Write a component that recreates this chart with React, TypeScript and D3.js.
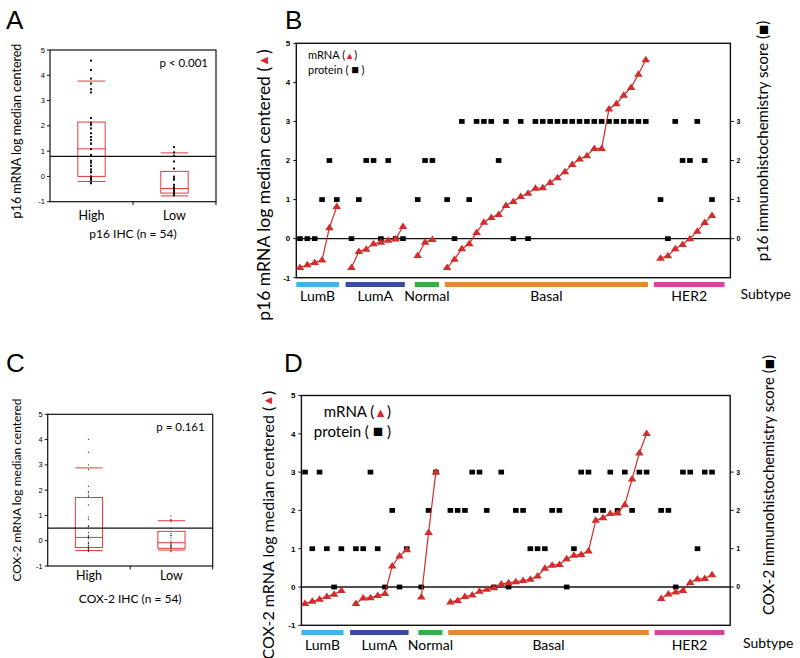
import React from "react";
import * as d3 from "d3";

// ---------- shared categories ----------
const subtypes = ["LumB", "LumA", "Normal", "Basal", "HER2"];
const subtypeColors = ["#41b6e6", "#3b4ba1", "#3aad4b", "#e38a36", "#d6449b"];
// subtype bar extents in sample-slot units
const subtypeBarStart = [-0.5, 6.2, 15.6, 19.7, 48.1];
const subtypeBarEnd = [5.3, 14.25, 18.9, 47.3, 57.7];
const yTicks = [-1, 0, 1, 2, 3, 4, 5];
const ihcTicks = [0, 1, 2, 3];
const ihcGroups = ["High", "Low"];

// ---------- p16 (panel B; panel A derived) ----------
const p16MrnaLumB = [-0.74, -0.67, -0.61, -0.55, 0.28, 0.82];
const p16ProteinLumB = [0, 0, 0, 1, 2, 1];
const p16MrnaLumA = [-0.74, -0.33, -0.27, -0.13, -0.09, -0.04, -0.01, 0.31];
const p16ProteinLumA = [0, 1, 2, 2, 0, 2, 0, 0];
const p16MrnaNormal = [-0.43, -0.09, -0.02];
const p16ProteinNormal = [1, 2, 2];
const p16MrnaBasal = [-0.74, -0.53, -0.26, -0.13, 0.16, 0.42, 0.54, 0.62, 0.85, 0.95, 1.08, 1.16, 1.29, 1.3, 1.44, 1.56, 1.71, 1.9, 2.04, 2.12, 2.31, 2.31, 3.32, 3.45, 3.67, 3.87, 4.21, 4.58];
const p16ProteinBasal = [1, 0, 3, 1, 3, 3, 3, 2, 3, 0, 3, 0, 3, 3, 3, 3, 3, 3, 3, 3, 3, 3, 3, 3, 3, 3, 3, 3];
const p16MrnaHER2 = [-0.5, -0.44, -0.26, -0.15, 0.0, 0.19, 0.41, 0.59];
const p16ProteinHER2 = [1, 0, 3, 2, 2, 3, 2, 1];

// panel A box summary: [lowCap, q1, median, q3, highCap] for High, Low
const p16BoxHigh = [-0.2, 0.0, 1.09, 2.15, 3.77];
const p16BoxLow = [-0.77, -0.66, -0.48, 0.2, 0.93];
const p16Threshold = 0.79;

// ---------- COX-2 (panel D; panel C derived) ----------
const coxMrnaLumB = [-0.43, -0.37, -0.32, -0.25, -0.19, -0.09];
const coxProteinLumB = [3, 1, 3, 1, 0, 1];
const coxMrnaLumA = [-0.43, -0.29, -0.28, -0.22, -0.17, 0.55, 0.81, 0.97];
const coxProteinLumA = [1, 1, 3, 1, 0, 2, 0, 1];
const coxMrnaNormal = [-0.26, 1.42, 3.0];
const coxProteinNormal = [0, 2, 3];
const coxMrnaBasal = [-0.39, -0.35, -0.25, -0.21, -0.11, -0.06, -0.02, 0.08, 0.11, 0.14, 0.17, 0.2, 0.29, 0.49, 0.57, 0.59, 0.74, 0.83, 0.85, 0.94, 1.74, 1.81, 1.92, 1.93, 2.15, 2.82, 3.5, 4.01];
const coxProteinBasal = [2, 2, 2, 3, 3, 2, 0, 3, 0, 2, 2, 1, 1, 1, 2, 2, 0, 1, 3, 3, 2, 2, 3, 2, 3, 2, 3, 3];
const coxMrnaHER2 = [-0.3, -0.18, -0.13, -0.09, 0.12, 0.21, 0.22, 0.32];
const coxProteinHER2 = [2, 2, 0, 3, 3, 1, 3, 3];

const coxBoxHigh = [-0.39, -0.27, 0.13, 1.71, 2.88];
const coxBoxLow = [-0.37, -0.3, -0.08, 0.37, 0.79];
const coxThreshold = 0.5;

const FONT = "Lato, 'Open Sans', sans-serif";
const NUMFONT = "'Liberation Sans', Arial, sans-serif";
const RED = "#d42b2b";
const BOXRED = "#e5383b";

type Sample = { group: number; slot: number; mrna: number; protein: number };

function buildSamples(mrna: number[][], protein: number[][]): Sample[] {
  const out: Sample[] = [];
  let slot = 0;
  mrna.forEach((g, gi) => {
    g.forEach((v, i) => out.push({ group: gi, slot: slot + i, mrna: v, protein: protein[gi][i] }));
    slot += g.length + 1;
  });
  return out;
}

const p16Samples = buildSamples(
  [p16MrnaLumB, p16MrnaLumA, p16MrnaNormal, p16MrnaBasal, p16MrnaHER2],
  [p16ProteinLumB, p16ProteinLumA, p16ProteinNormal, p16ProteinBasal, p16ProteinHER2]
);
const coxSamples = buildSamples(
  [coxMrnaLumB, coxMrnaLumA, coxMrnaNormal, coxMrnaBasal, coxMrnaHER2],
  [coxProteinLumB, coxProteinLumA, coxProteinNormal, coxProteinBasal, coxProteinHER2]
);

function BoxPanel(props: {
  x0: number; x1: number; y0: number; y1: number;
  samples: Sample[]; boxHigh: number[]; boxLow: number[]; threshold: number;
  pText: string; xTitle: string; yTitle: string; yTitleX: number; yTitleY: number;
  xTitleY: number; catY: number; dotR: number; dotColor: string; titleSize: number;
}) {
  const { x0, x1, y0, y1, samples } = props;
  const x = d3.scaleBand().domain(ihcGroups).range([x0, x1]);
  const y = d3.scaleLinear().domain([-1, 5]).range([y1, y0]);
  const bw = x.bandwidth() * 0.33;
  const boxes = [props.boxHigh, props.boxLow];
  return (
    <g>
      <rect x={x0} y={y0} width={x1 - x0} height={y1 - y0} fill="none" stroke="#111" strokeWidth={1.2} />
      {yTicks.map((t) => (
        <g key={t}>
          <line x1={x0 - 3} x2={x0} y1={y(t)} y2={y(t)} stroke="#111" strokeWidth={1} />
          <text x={x0 - 5} y={y(t)} dy="0.35em" textAnchor="end" fontSize={7.5} fontFamily={NUMFONT}>{t}</text>
        </g>
      ))}
      {ihcGroups.map((g) => (
        <line key={g} x1={(x(g) as number) + x.bandwidth()} x2={(x(g) as number) + x.bandwidth()} y1={y1} y2={y1 + 3.5} stroke="#111" strokeWidth={1} />
      ))}
      {ihcGroups.map((g, gi) => {
        const cx = (x(g) as number) + x.bandwidth() / 2;
        const b = boxes[gi];
        const dots = samples.filter((s) => (gi === 0 ? s.protein >= 2 : s.protein < 2));
        return (
          <g key={g}>
            <rect x={cx - bw / 2} y={y(b[3])} width={bw} height={y(b[1]) - y(b[3])} fill="none" stroke={BOXRED} strokeWidth={1} />
            {[b[0], b[2], b[4]].map((v, k) => (
              <line key={k} x1={cx - bw / 2} x2={cx + bw / 2} y1={y(v)} y2={y(v)} stroke={BOXRED} strokeWidth={1} />
            ))}
            {dots.map((s, k) => (
              <rect key={k} x={cx - 0.5 - props.dotR} y={y(s.mrna) - props.dotR} width={props.dotR * 2} height={props.dotR * 2} fill={props.dotColor} />
            ))}
            <text x={cx} y={props.catY} textAnchor="middle" fontSize={12.5} fontFamily={FONT}>{g}</text>
          </g>
        );
      })}
      <line x1={x0} x2={x1} y1={y(props.threshold)} y2={y(props.threshold)} stroke="#111" strokeWidth={1.2} />
      <text x={x1 - 8} y={y0 + 17} textAnchor="end" fontSize={11.5} fontFamily={FONT}>{props.pText}</text>
      <text x={(x0 + x1) / 2} y={props.xTitleY} textAnchor="middle" fontSize={12} fontFamily={FONT}>{props.xTitle}</text>
      <text transform={`translate(${props.yTitleX},${props.yTitleY}) rotate(-90)`} textAnchor="middle" dominantBaseline="central" fontSize={props.titleSize} fontFamily={FONT}>{props.yTitle}</text>
    </g>
  );
}

function ScatterPanel(props: {
  x0: number; x1: number; y0: number; y1: number; samples: Sample[];
  gene: string; leftTitleX: number; leftTitleY: number; leftTitleSize: number; rightTitleX: number; rightTitleY: number;
  legendX: number; legendY: number; legendSize: number; legendAnchor: "start" | "end";
  barY: number; labelY: number; subtypeTextX: number; subtypeTextY: number;
}) {
  const { x0, x1, y0, y1, samples } = props;
  const x = d3.scaleLinear().domain([-0.5, 58.5]).range([x0, x1]);
  const y = d3.scaleLinear().domain([-1, 5]).range([y1, y0]);
  const yr = d3.scaleLinear().domain([-1, 5]).range([y1, y0]);
  const line = d3.line<Sample>().x((d) => x(d.slot)).y((d) => y(d.mrna));
  const tri = "M0,-4L4.3,2.5L-4.3,2.5Z";
  return (
    <g>
      <rect x={x0} y={y0} width={x1 - x0} height={y1 - y0} fill="none" stroke="#111" strokeWidth={1.4} />
      {yTicks.map((t) => (
        <g key={t}>
          <line x1={x0 - 3} x2={x0} y1={y(t)} y2={y(t)} stroke="#111" strokeWidth={1} />
          <text x={x0 - 6} y={y(t)} dy="0.35em" textAnchor="end" fontSize={8} fontWeight="bold" fontFamily={NUMFONT}>{t}</text>
        </g>
      ))}
      {ihcTicks.map((t) => (
        <g key={t}>
          <line x1={x1} x2={x1 + 3.5} y1={yr(t)} y2={yr(t)} stroke="#111" strokeWidth={1} />
          <text x={x1 + 6} y={yr(t)} dy="0.35em" textAnchor="start" fontSize={7} fontWeight="bold" fontFamily={NUMFONT}>{t}</text>
        </g>
      ))}
      <line x1={x0} x2={x1} y1={y(0)} y2={y(0)} stroke="#111" strokeWidth={1.4} />
      {samples.map((s, i) => (
        <rect key={"p" + i} x={x(s.slot) - 2.8} y={yr(s.protein) - 2.4} width={5.6} height={4.8} fill="#000" />
      ))}
      {subtypes.map((st, gi) => {
        const g = samples.filter((s) => s.group === gi);
        return <path key={st} d={line(g) || ""} fill="none" stroke={RED} strokeWidth={1.2} />;
      })}
      {samples.map((s, i) => (
        <path key={"t" + i} d={tri} transform={`translate(${x(s.slot)},${y(s.mrna)})`} fill={RED} />
      ))}
      {subtypes.map((st, gi) => {
        const a = x(subtypeBarStart[gi]);
        const b = x(subtypeBarEnd[gi]);
        return (
          <g key={st}>
            <rect x={a} y={props.barY} width={b - a} height={5} fill={subtypeColors[gi]} />
            <text x={(a + b) / 2} y={props.labelY} textAnchor="middle" fontSize={14} fontFamily={FONT}>{st}</text>
          </g>
        );
      })}
      <text x={props.subtypeTextX} y={props.subtypeTextY} fontSize={14} fontFamily={FONT}>Subtype</text>
      <g fontFamily={FONT} fontSize={props.legendSize} textAnchor={props.legendAnchor}>
        <text x={props.legendX} y={props.legendY}>mRNA (<tspan fill={RED} fontSize={props.legendSize * 0.85}>▲</tspan>)</text>
        <text x={props.legendX} y={props.legendY + props.legendSize * 1.35}>protein ( <tspan fontSize={props.legendSize * 1.15}>■</tspan> )</text>
      </g>
      <text transform={`translate(${props.leftTitleX},${props.leftTitleY}) rotate(-90)`} textAnchor="middle" dominantBaseline="central" fontSize={props.leftTitleSize} fontFamily={FONT}>
        {props.gene} mRNA log median centered (<tspan fill={RED} fontSize={props.leftTitleSize * 0.75}>▲</tspan>)
      </text>
      <text transform={`translate(${props.rightTitleX},${props.rightTitleY}) rotate(-90)`} textAnchor="middle" dominantBaseline="central" fontSize={15} fontFamily={FONT}>
        {props.gene} immunohistochemistry score (<tspan fontSize={17}>■</tspan>)
      </text>
    </g>
  );
}

export default function App() {
  const letter = { fontSize: 26, fontFamily: NUMFONT } as const;
  return (
    <svg width={800} height={658} style={{ position: "absolute", left: 0, top: 0, background: "#fff" }}>
      <rect width={800} height={658} fill="#fff" />
      <text x={6} y={28.5} {...letter}>A</text>
      <text x={285} y={28.5} {...letter}>B</text>
      <text x={6} y={372} {...letter}>C</text>
      <text x={284} y={372} {...letter}>D</text>

      <BoxPanel x0={50} x1={216} y0={50} y1={201.7} samples={p16Samples}
        boxHigh={p16BoxHigh} boxLow={p16BoxLow} threshold={p16Threshold}
        pText="p < 0.001" xTitle="p16 IHC (n = 54)" yTitle="p16 mRNA log median centered"
        yTitleX={16} yTitleY={131} xTitleY={238} catY={220} dotR={1} dotColor="#111" titleSize={12.5} />

      <BoxPanel x0={47.7} x1={212.7} y0={414.3} y1={566} samples={coxSamples}
        boxHigh={coxBoxHigh} boxLow={coxBoxLow} threshold={coxThreshold}
        pText="p = 0.161" xTitle="COX-2 IHC (n = 54)" yTitle="COX-2 mRNA log median centered"
        yTitleX={16.5} yTitleY={490} xTitleY={603} catY={580} dotR={0.55} dotColor="#333" titleSize={12} />

      <ScatterPanel x0={296.3} x1={730.4} y0={43.3} y1={277.7} samples={p16Samples} gene="p16"
        leftTitleX={263} leftTitleY={185} leftTitleSize={17.5} rightTitleX={762} rightTitleY={141}
        legendX={308} legendY={59} legendSize={11} legendAnchor="start"
        barY={282} labelY={301} subtypeTextX={740.5} subtypeTextY={298.5} />

      <ScatterPanel x0={301.4} x1={730.2} y0={395.5} y1={625.3} samples={coxSamples} gene="COX-2"
        leftTitleX={267} leftTitleY={525} leftTitleSize={16} rightTitleX={768} rightTitleY={485}
        legendX={391} legendY={416.5} legendSize={15} legendAnchor="end"
        barY={630} labelY={649.5} subtypeTextX={743} subtypeTextY={647.5} />
    </svg>
  );
}
